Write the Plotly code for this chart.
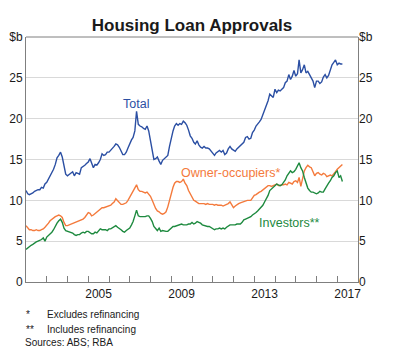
import pandas as pd
import plotly.graph_objects as go

months = pd.date_range("2002-01-01", "2017-04-01", freq="MS")

total = [
    11.2, 10.8, 10.7, 10.8, 10.9, 11.1, 11.2, 11.3, 11.3, 11.6, 11.5, 12.0,
    12.2, 12.6, 12.9, 13.3, 13.8, 14.4, 15.2, 15.5, 15.9, 15.3, 14.2, 13.2,
    13.0, 13.2, 13.4, 13.5, 13.0, 13.4, 13.3, 13.2, 14.0, 14.1, 14.3, 14.5,
    14.7, 15.1, 14.6, 14.0, 14.4, 14.3, 14.6, 15.0, 15.7, 15.5, 15.6, 15.9,
    15.9, 16.1, 16.3, 16.6, 16.9, 16.8, 16.5, 16.0, 15.6, 15.6, 15.9, 16.4,
    17.0, 17.4, 17.7, 18.5, 20.9, 19.3, 19.1, 19.0, 18.8, 18.7, 19.1, 18.5,
    17.3, 16.0, 15.0, 15.1, 15.3, 14.8, 14.4, 14.9, 15.1, 15.2, 15.5, 16.6,
    17.7, 18.5, 19.1, 19.4, 19.2, 19.4, 19.3, 19.7, 19.5, 19.2, 18.6, 17.9,
    17.6, 17.1, 16.9, 17.3, 16.8, 16.5, 16.4, 16.6, 16.4, 16.4, 16.3, 16.0,
    15.8, 15.5, 15.8, 16.0, 16.1, 15.9, 16.1, 15.6, 15.8, 16.3, 16.6, 16.3,
    16.1, 16.0, 16.3, 16.5, 16.6, 16.8, 17.1, 17.7, 17.8, 17.5, 17.6, 18.3,
    18.6, 19.1, 19.3, 19.6, 19.9, 20.5, 20.9, 21.5, 22.2, 23.0, 22.8, 22.6,
    23.6, 23.2, 23.5, 23.4, 23.6, 23.8, 24.4, 24.6, 25.4, 24.8, 25.2, 25.9,
    25.2, 25.5, 27.2, 25.6, 26.0, 26.6, 25.6, 25.8, 25.4, 25.0, 24.6, 23.8,
    24.6, 24.6, 24.3, 24.5, 25.1, 25.4, 25.0, 25.3, 26.1, 26.6, 26.9, 27.2,
    26.6, 26.8, 26.7, 26.7,
]

owner_occupiers = [
    6.9, 6.6, 6.4, 6.4, 6.3, 6.3, 6.4, 6.3, 6.3, 6.4, 6.5, 6.7,
    6.9, 7.2, 7.5, 7.7, 7.9, 8.0, 8.1, 8.2, 8.1, 7.9, 7.3, 6.9,
    6.9, 7.0, 7.1, 7.2, 7.3, 7.4, 7.4, 7.5, 7.6, 7.7, 7.9, 8.2,
    8.5, 8.4, 8.1, 8.2, 8.4, 8.5, 8.7, 8.9, 9.1, 9.1, 9.2, 9.2,
    9.3, 9.4, 9.6, 9.8, 10.2, 10.0, 9.7, 9.5, 9.5, 9.6, 9.7, 10.0,
    10.4, 10.8, 11.1, 11.4, 11.9, 11.3, 11.1, 11.1, 11.0, 10.9, 11.0, 10.8,
    10.5, 10.0, 9.5, 9.0, 8.7, 8.6, 8.4, 8.3, 8.4, 8.6, 9.2, 10.0,
    11.0, 11.6, 12.1, 12.3, 12.3, 12.2, 12.3, 12.6, 12.1, 11.8, 11.2, 10.8,
    10.3, 10.0, 9.9, 9.7, 9.6, 9.6, 9.6, 9.6, 9.5, 9.6, 9.5, 9.5,
    9.5, 9.4, 9.5, 9.4, 9.4, 9.4, 9.3, 9.4, 9.5, 9.6, 9.8, 9.4,
    9.1, 9.3, 9.5, 9.6, 9.7, 9.8, 9.9, 9.9, 10.0, 10.0, 10.0, 10.3,
    10.6, 10.7, 10.9, 11.0, 11.1, 11.3, 11.4, 11.6, 11.8, 11.8, 11.7, 11.8,
    11.9, 12.0, 11.8, 11.8, 11.9, 11.9, 12.0, 11.9, 12.2, 12.1, 12.0, 12.3,
    12.4, 12.2, 12.8, 11.7, 12.5, 13.6, 14.0, 14.3, 14.1, 14.0, 13.5, 13.0,
    13.3, 13.4, 13.2, 13.1, 13.3, 13.2, 12.9, 13.0, 13.1, 13.0, 13.2, 13.5,
    13.8, 14.0, 14.2, 14.4,
]

investors = [
    4.0, 4.2, 4.3, 4.5, 4.6, 4.8, 4.9, 5.0, 5.1, 5.2, 5.4, 5.0,
    5.5, 5.7, 5.9, 6.1, 6.4, 6.9, 7.2, 7.5, 7.7, 7.3, 6.6, 6.3,
    6.2, 6.1, 6.0, 6.0, 5.8, 5.7, 5.8, 5.8, 6.0, 6.1, 6.0, 6.2,
    6.2, 6.0, 5.9, 5.9, 6.1, 6.0, 6.3, 6.5, 6.4, 6.4, 6.4, 6.3,
    6.5, 6.5, 6.6, 6.8, 6.9, 6.7, 6.6, 6.4, 6.2, 6.1, 6.3, 6.5,
    6.6, 7.0, 7.4, 8.1, 8.8, 8.1, 8.0, 8.0, 8.0, 8.0, 8.1, 8.1,
    7.8, 7.4, 6.8, 6.5, 6.3, 6.6, 6.2, 6.3, 6.2, 6.2, 6.2, 6.4,
    6.6, 6.8, 6.8, 6.9, 6.9, 7.0, 7.1, 7.0, 7.0, 7.0, 7.1, 7.1,
    7.3, 7.1, 7.2, 7.4, 7.3, 7.2, 7.0, 6.9, 6.9, 6.8, 6.8, 6.7,
    6.6, 6.4, 6.5, 6.5, 6.6, 6.5, 6.6, 6.5, 6.7, 6.9, 7.0, 7.0,
    7.0, 7.0, 7.1, 7.1, 7.1, 7.3, 7.6, 7.7, 7.8, 7.9, 8.0, 8.2,
    8.3, 8.5, 8.7, 8.9, 9.2, 9.4, 9.8, 10.2, 10.6, 11.2, 11.4, 11.6,
    11.8, 12.0, 11.9, 11.8, 11.9, 12.2, 12.5, 13.0, 13.3, 13.6, 13.4, 13.5,
    13.8, 14.2, 14.6, 14.0, 13.6, 12.8, 12.0, 11.5, 11.2, 11.0, 11.0, 10.9,
    10.8, 10.9, 11.1, 11.0, 11.0, 11.4, 11.8, 12.1, 12.4, 12.8, 13.0, 13.4,
    13.6, 12.8, 13.0, 12.3,
]

y_tickvals = [0, 5, 10, 15, 20, 25, 30]
y_ticktext = ["0", "5", "10", "15", "20", "25", "$b"]
year_ticks = [f"{y}-01-01" for y in range(2003, 2018)]
label_years = ["2005", "2009", "2013", "2017"]
label_pos = [f"{y}-07-02" for y in label_years]
x_range = ["2002-01-01", "2018-01-01"]

BLUE = "#2b4fa3"
ORANGE = "#f47a3c"
GREEN = "#1e8a3f"
FONT = "Liberation Sans, Arial, sans-serif"

# The page body has an 8px margin, so the figure is drawn 8px in from the top-left.
W, H = 378, 342

fig = go.Figure()
fig.add_trace(go.Scatter(x=months, y=total, mode="lines",
                         line=dict(color=BLUE, width=1.4), showlegend=False))
fig.add_trace(go.Scatter(x=months, y=owner_occupiers, mode="lines",
                         line=dict(color=ORANGE, width=1.4), showlegend=False))
fig.add_trace(go.Scatter(x=months, y=investors, mode="lines",
                         line=dict(color=GREEN, width=1.4), showlegend=False))
fig.add_trace(go.Scatter(x=[], y=[], xaxis="x2", yaxis="y2", showlegend=False))

fig.update_layout(
    width=W, height=H,
    margin=dict(l=18, r=28, t=29, b=68, pad=0, autoexpand=False),
    paper_bgcolor="white", plot_bgcolor="white",
    font=dict(family=FONT, size=12, color="#1a1a1a"),
    title=dict(text="<b>Housing Loan Approvals</b>", x=184 / W, xanchor="center",
               xref="container", yref="container",
               y=1 - 17 / H, yanchor="middle", font=dict(size=17, color="#1a1a1a")),
    xaxis=dict(type="date", range=x_range, tickvals=year_ticks, showticklabels=False,
               ticks="inside", ticklen=6, tickcolor="#7f7f7f", tickwidth=1,
               showline=True, linecolor="#7f7f7f", linewidth=1, mirror=False,
               showgrid=False, zeroline=False, automargin=False),
    xaxis2=dict(type="date", range=x_range, overlaying="x", anchor="y", side="bottom",
                tickvals=label_pos, ticktext=label_years, ticks="",
                ticklabelstandoff=3,
                showline=False, showgrid=False, zeroline=False, automargin=False,
                tickfont=dict(size=12)),
    yaxis=dict(range=[0, 30], tickvals=y_tickvals, ticktext=y_ticktext,
               showgrid=True, gridcolor="#d9d9d9", gridwidth=1.4,
               showline=True, linecolor="#7f7f7f", linewidth=1, mirror=True,
               ticks="", zeroline=False, automargin=False, tickfont=dict(size=12)),
    yaxis2=dict(range=[0, 30], overlaying="y", side="right", anchor="x",
                tickvals=y_tickvals, ticktext=y_ticktext, showgrid=False,
                showline=False, ticks="", zeroline=False, automargin=False,
                tickfont=dict(size=12)),
    shapes=[dict(type="line", xref="paper", yref="paper", x0=0, x1=1, y0=1, y1=1,
                 line=dict(color="#7f7f7f", width=1))],
)

# series labels
fig.add_annotation(x="2007-04-15", y=21.8, text="Total", showarrow=False,
                   font=dict(color=BLUE, size=12.5))
fig.add_annotation(x="2011-11-15", y=13.4, text="Owner-occupiers*", showarrow=False,
                   font=dict(color=ORANGE, size=12.5))
fig.add_annotation(x="2014-09-15", y=7.25, text="Investors**", showarrow=False,
                   font=dict(color=GREEN, size=12.5))

# footnotes (positions relative to the plot frame, which is 332 x 245 px)
notes = [("*", "Excludes refinancing", 314), ("**", "Includes refinancing", 329)]
for sym, txt, py in notes:
    fig.add_annotation(xref="paper", yref="paper", x=(24 - 26) / 332, y=(282 - py) / 245,
                       xanchor="left", yanchor="middle", text=sym, showarrow=False,
                       font=dict(size=10))
    fig.add_annotation(xref="paper", yref="paper", x=(45 - 26) / 332, y=(282 - py) / 245,
                       xanchor="left", yanchor="middle", text=txt, showarrow=False,
                       font=dict(size=10))
fig.add_annotation(xref="paper", yref="paper", x=(23 - 26) / 332, y=(282 - 343) / 245,
                   xanchor="left", yanchor="middle", text="Sources: ABS; RBA",
                   showarrow=False, font=dict(size=10))

fig.write_html("out.html")
